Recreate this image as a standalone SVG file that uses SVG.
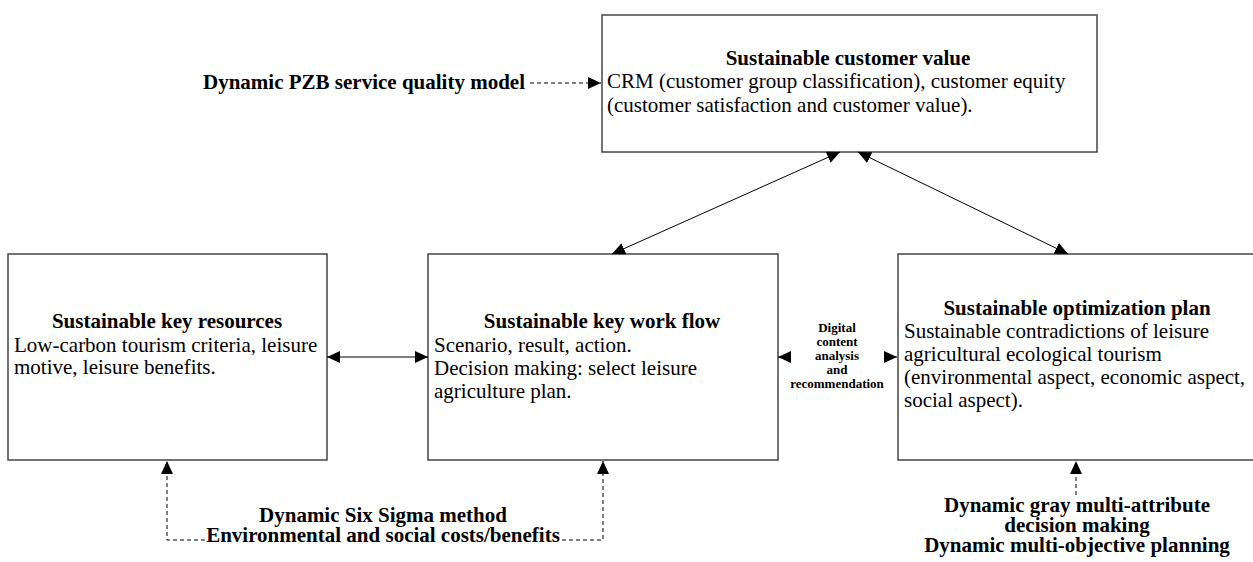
<svg xmlns="http://www.w3.org/2000/svg" width="1253" height="562" viewBox="0 0 1253 562">
<style>
.box{fill:#fff;stroke:#444;stroke-width:1.5}
.t{font-family:"Liberation Serif","Times New Roman",serif;font-size:21px;fill:#000}
.b{font-weight:bold}
.s{font-family:"Liberation Serif","Times New Roman",serif;font-size:13px;font-weight:bold;fill:#000}
.ln{stroke:#000;stroke-width:1;fill:none}
.d{stroke-dasharray:4,3}
</style>
<defs>
<marker id="ah" markerUnits="userSpaceOnUse" markerWidth="14" markerHeight="12" refX="13" refY="6" orient="auto-start-reverse">
<path d="M0,0 L13,6 L0,12 Z" fill="#000"/>
</marker>
</defs>
<g id="node-customer-value">
<rect class="box" x="602" y="15" width="495" height="137"/>
<text class="t b" x="848" y="65" text-anchor="middle">Sustainable customer value</text>
<text class="t" x="607" y="88">CRM (customer group classification), customer equity</text>
<text class="t" x="607" y="112">(customer satisfaction and customer value).</text>
</g>
<g id="node-key-resources">
<rect class="box" x="8" y="254" width="319" height="206"/>
<text class="t b" x="167" y="328" text-anchor="middle">Sustainable key resources</text>
<text class="t" x="14" y="352">Low-carbon tourism criteria, leisure</text>
<text class="t" x="14" y="374">motive, leisure benefits.</text>
</g>
<g id="node-work-flow">
<rect class="box" x="428" y="254" width="350" height="206"/>
<text class="t b" x="602" y="328" text-anchor="middle">Sustainable key work flow</text>
<text class="t" x="434" y="352">Scenario, result, action.</text>
<text class="t" x="434" y="375">Decision making: select leisure</text>
<text class="t" x="434" y="398">agriculture plan.</text>
</g>
<g id="node-optimization-plan">
<rect class="box" x="898" y="254" width="370" height="206"/>
<text class="t b" x="1077" y="315" text-anchor="middle">Sustainable optimization plan</text>
<text class="t" x="904" y="338">Sustainable contradictions of leisure</text>
<text class="t" x="904" y="361">agricultural ecological tourism</text>
<text class="t" x="904" y="384">(environmental aspect, economic aspect,</text>
<text class="t" x="904" y="407">social aspect).</text>
</g>
<g id="labels">
<text class="t b" x="525" y="89" text-anchor="end">Dynamic PZB service quality model</text>
<text class="s" x="837" y="332" text-anchor="middle">Digital</text>
<text class="s" x="837" y="346" text-anchor="middle">content</text>
<text class="s" x="837" y="360" text-anchor="middle">analysis</text>
<text class="s" x="837" y="374" text-anchor="middle">and</text>
<text class="s" x="837" y="388" text-anchor="middle">recommendation</text>
<text class="t b" x="383" y="522" text-anchor="middle">Dynamic Six Sigma method</text>
<text class="t b" x="383" y="542" text-anchor="middle">Environmental and social costs/benefits</text>
<text class="t b" x="1077" y="512" text-anchor="middle">Dynamic gray multi-attribute</text>
<text class="t b" x="1077" y="532" text-anchor="middle">decision making</text>
<text class="t b" x="1077" y="552" text-anchor="middle">Dynamic multi-objective planning</text>
</g>
<g id="connectors">
<line class="ln d" x1="530" y1="83" x2="601" y2="83" marker-end="url(#ah)"/>
<line class="ln" x1="840" y1="152" x2="612" y2="254" marker-start="url(#ah)" marker-end="url(#ah)"/>
<line class="ln" x1="858" y1="152" x2="1068" y2="254" marker-start="url(#ah)" marker-end="url(#ah)"/>
<line class="ln" x1="327" y1="357" x2="428" y2="357" marker-start="url(#ah)" marker-end="url(#ah)"/>
<line class="ln" x1="778" y1="357" x2="791" y2="357" marker-start="url(#ah)"/>
<line class="ln" x1="884" y1="357" x2="897" y2="357" marker-end="url(#ah)"/>
<polyline class="ln d" points="205,540 167,540 167,461" marker-end="url(#ah)"/>
<polyline class="ln d" points="562,540 603,540 603,461" marker-end="url(#ah)"/>
<line class="ln d" x1="1076" y1="495" x2="1076" y2="461" marker-end="url(#ah)"/>
</g>
</svg>
